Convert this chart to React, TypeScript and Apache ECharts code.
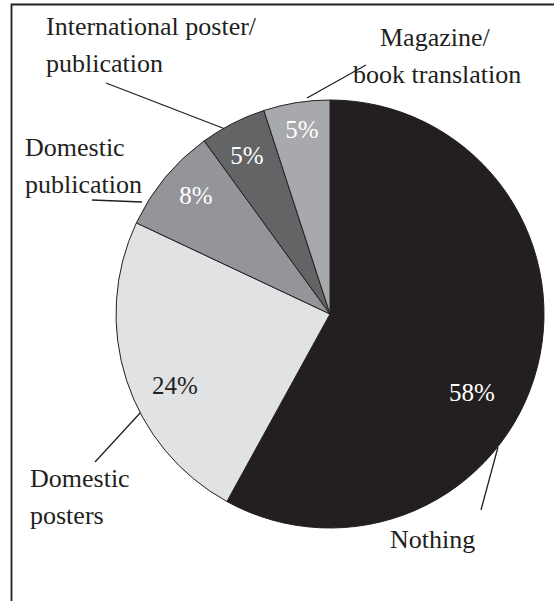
import React, { useEffect, useRef } from 'react';
import * as echarts from 'echarts';

// Data (clockwise from 12 o'clock)
const CATEGORIES = [
  'Nothing',
  'Domestic posters',
  'Domestic publication',
  'International poster/publication',
  'Magazine/book translation',
];
const VALUES = [58, 24, 8, 5, 5];
const LABEL_TEXTS = [
  'Nothing',
  'Domestic\nposters',
  'Domestic\npublication',
  'International poster/\npublication',
  '{ind|Magazine/}\n{n|book translation}',
];

// Styles / layout
const COLORS = ['#231f20', '#e1e2e4', '#939598', '#636466', '#a7a9ac'];
const PCT_COLORS = ['#ffffff', '#231f20', '#ffffff', '#ffffff', '#ffffff'];
const NAME_ANCHORS = [
  [390, 539],
  [30, 497],
  [25, 166],
  [46, 44.5],
  [353, 55.5],
];
const PCT_ANCHORS = [
  [472, 392],
  [175, 385],
  [196, 195],
  [247, 155],
  [302, 129],
];
const LEADERS = [
  [[481, 510], [498, 447]],
  [[95, 462], [141, 412]],
  [[92, 200], [142, 202]],
  [[106, 83], [233, 132]],
  [[366, 65], [307, 98]],
];

const FONT = 'Liberation Serif';

export default function App() {
  const ref = useRef<HTMLDivElement>(null);
  useEffect(() => {
    if (!ref.current) return;
    const chart = echarts.init(ref.current, null, { renderer: 'svg' });
    const data = CATEGORIES.map((name, i) => ({
      name,
      value: VALUES[i],
      itemStyle: { color: COLORS[i] },
      label: { color: PCT_COLORS[i], fontFamily: FONT },
    }));
    const data2 = CATEGORIES.map((name, i) => ({ name, value: VALUES[i] }));
    chart.setOption({
      animation: false,
      backgroundColor: '#ffffff',
      textStyle: { fontFamily: FONT },
      graphic: [
        {
          type: 'rect',
          shape: { x: 11.5, y: 4.5, width: 600, height: 700 },
          style: { fill: 'none', stroke: '#231f20', lineWidth: 1.8 },
          silent: true,
        },
      ],
      series: [
        {
          type: 'pie',
          center: [330, 314],
          radius: 214,
          startAngle: 90,
          clockwise: true,
          avoidLabelOverlap: false,
          data,
          itemStyle: { borderColor: '#231f20', borderWidth: 1 },
          label: {
            show: true,
            position: 'inside',
            formatter: (p: any) => p.value + '%',
            fontFamily: FONT,
            fontSize: 25,
          },
          labelLine: { show: false },
          emphasis: { disabled: true },
          labelLayout: (p: any) => {
            const a = PCT_ANCHORS[p.dataIndex];
            return { x: a[0], y: a[1], align: 'center', verticalAlign: 'middle' };
          },
        },
        {
          type: 'pie',
          center: [330, 314],
          radius: 214,
          startAngle: 90,
          clockwise: true,
          avoidLabelOverlap: false,
          silent: true,
          data: data2,
          itemStyle: { color: 'rgba(0,0,0,0)', borderWidth: 0 },
          label: {
            show: true,
            position: 'outside',
            formatter: (p: any) => LABEL_TEXTS[p.dataIndex],
            fontFamily: FONT,
            fontSize: 26,
            lineHeight: 37,
            color: '#231f20',
            align: 'left',
            rich: {
              ind: { fontFamily: FONT, fontSize: 26, lineHeight: 37, color: '#231f20', padding: [0, 0, 0, 27] },
              n: { fontFamily: FONT, fontSize: 26, lineHeight: 37, color: '#231f20' },
            },
          },
          labelLine: {
            show: true,
            length: 10,
            length2: 10,
            lineStyle: { color: '#231f20', width: 1.3 },
          },
          emphasis: { disabled: true },
          labelLayout: (p: any) => {
            const i = p.dataIndex;
            const a = NAME_ANCHORS[i];
            return {
              x: a[0],
              y: a[1],
              align: 'left',
              verticalAlign: 'middle',
              labelLinePoints: LEADERS[i],
            };
          },
        },
      ],
    });
    return () => chart.dispose();
  }, []);
  return (
    <div
      ref={ref}
      style={{ position: 'absolute', left: 0, top: 0, width: 554, height: 601 }}
    />
  );
}
